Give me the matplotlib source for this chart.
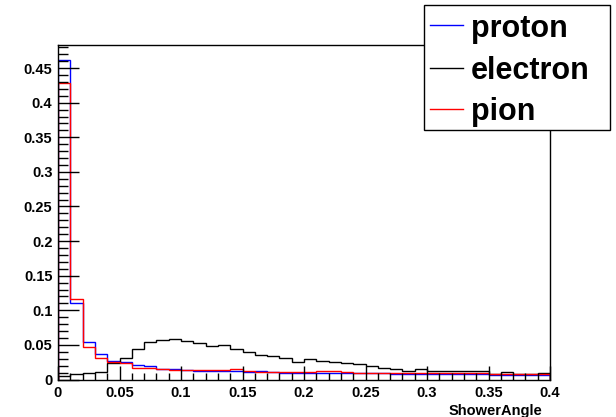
import numpy as np
import matplotlib
matplotlib.use("Agg")
import matplotlib.pyplot as plt
from matplotlib.ticker import MultipleLocator, FuncFormatter
from matplotlib.lines import Line2D
from matplotlib.patches import Rectangle

plt.rcParams['font.family'] = ['Liberation Sans', 'DejaVu Sans']
plt.rcParams['font.weight'] = 'bold'

# 40 bins from 0 to 0.4
bin_edges = np.linspace(0.0, 0.4, 41)

series_names = ["proton", "electron", "pion"]
series_colors = ["#0000ff", "#000000", "#ff0000"]

proton = [0.461, 0.110, 0.054, 0.037, 0.027, 0.025, 0.0205, 0.019, 0.0155, 0.015,
          0.0138, 0.0128, 0.012, 0.012, 0.012, 0.0105, 0.0128, 0.011, 0.010, 0.010,
          0.010, 0.0098, 0.0098, 0.0098, 0.009, 0.009, 0.0088, 0.0082, 0.0082, 0.0082,
          0.008, 0.008, 0.0078, 0.0078, 0.0078, 0.0065, 0.0065, 0.006, 0.006, 0.006]

electron = [0.0055, 0.0075, 0.0095, 0.011, 0.0235, 0.0306, 0.0438, 0.0537, 0.0565, 0.059,
            0.0555, 0.0525, 0.049, 0.0505, 0.0435, 0.040, 0.036, 0.0338, 0.031, 0.0257,
            0.0295, 0.0265, 0.0255, 0.0235, 0.022, 0.019, 0.017, 0.015, 0.013, 0.0145,
            0.0125, 0.012, 0.012, 0.012, 0.012, 0.008, 0.0105, 0.0075, 0.0075, 0.009]

pion = [0.429, 0.117, 0.0468, 0.031, 0.0258, 0.0235, 0.017, 0.0162, 0.015, 0.0138,
        0.014, 0.014, 0.0133, 0.0133, 0.0148, 0.0128, 0.0114, 0.0114, 0.0114, 0.0114,
        0.011, 0.0118, 0.0118, 0.0115, 0.0099, 0.0099, 0.0099, 0.0094, 0.0094, 0.0094,
        0.0094, 0.0094, 0.0094, 0.0094, 0.0094, 0.008, 0.008, 0.0078, 0.0078, 0.0078]

xlabel = "ShowerAngle"

W, H = 616, 417
fig = plt.figure(figsize=(W / 100, H / 100), dpi=100)
L, R, T, B = 58, 550, 45, 379.5
ax = fig.add_axes([L / W, 1 - B / H, (R - L) / W, (B - T) / H])

data = [proton, electron, pion]
for vals, col in zip(data, series_colors):
    ax.stairs(vals, bin_edges, color=col, linewidth=1.0, baseline=0)

ax.set_xlim(0, 0.4)
ax.set_ylim(0, (B - T) / 692.0)

ax.xaxis.set_major_locator(MultipleLocator(0.05))
ax.xaxis.set_minor_locator(MultipleLocator(0.01))
ax.yaxis.set_major_locator(MultipleLocator(0.05))
ax.yaxis.set_minor_locator(MultipleLocator(0.01))

def fmt(v, pos):
    return f"{v:.2f}".rstrip('0').rstrip('.')
ax.xaxis.set_major_formatter(FuncFormatter(fmt))
ax.yaxis.set_major_formatter(FuncFormatter(fmt))

ax.tick_params(axis='both', which='both', direction='in', top=False, right=False,
               labelsize=10.5, width=1, color='black')
ax.tick_params(axis='y', which='major', length=15, pad=4)
ax.tick_params(axis='y', which='minor', length=7.5)
ax.tick_params(axis='x', which='major', length=10, pad=5)
ax.tick_params(axis='x', which='minor', length=5)
for lab in ax.get_xticklabels() + ax.get_yticklabels():
    lab.set_fontweight('bold')
for sp in ax.spines.values():
    sp.set_linewidth(1)
    sp.set_color('black')

fig.text(542 / W, 1 - 411 / H, xlabel, ha='right', va='center', fontsize=10.5,
         fontweight='bold')

# Legend box
lx0, lx1, ly0, ly1 = 424, 610, 5, 129.5
fig.add_artist(Rectangle((lx0 / W, 1 - ly1 / H), (lx1 - lx0) / W, (ly1 - ly0) / H,
                         transform=fig.transFigure, facecolor='white',
                         edgecolor='black', linewidth=1, zorder=10))
ys = [25, 67.5, 109]
for name, col, yy in zip(series_names, series_colors, ys):
    fig.add_artist(Line2D([430 / W, 463 / W], [1 - yy / H, 1 - yy / H],
                          transform=fig.transFigure, color=col, linewidth=1, zorder=11))
    fig.text(471 / W, 1 - yy / H, name, ha='left', va='center_baseline', fontsize=22,
             fontweight='bold', zorder=12)

fig.savefig("out.png", dpi=100)
